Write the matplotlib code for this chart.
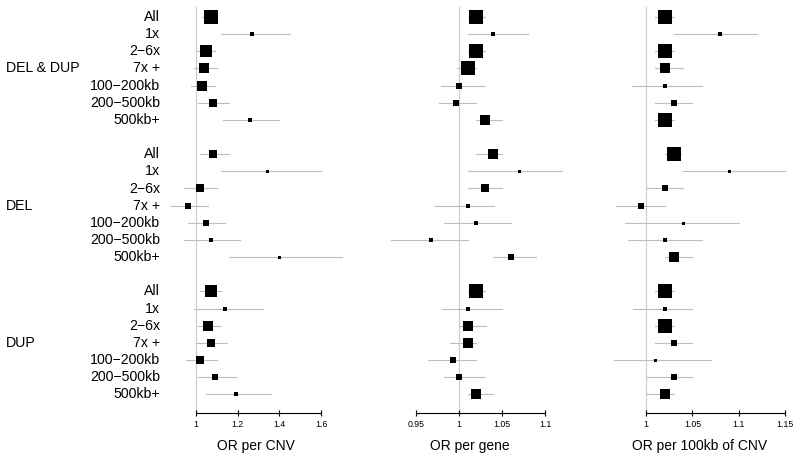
import matplotlib.pyplot as plt
from matplotlib.transforms import blended_transform_factory

plt.rcParams['font.family'] = ['Liberation Sans', 'DejaVu Sans']

groups = ['DEL & DUP', 'DEL', 'DUP']
subsets = ['All', '1x', '2−6x', '7x +', '100−200kb', '200−500kb', '500kb+']

# OR per CNV
cnv_or = [1.07, 1.27, 1.05, 1.04, 1.03, 1.08, 1.26,
          1.08, 1.34, 1.02, 0.96, 1.05, 1.07, 1.40,
          1.07, 1.14, 1.06, 1.07, 1.02, 1.09, 1.19]
cnv_lo = [1.03, 1.12, 1.00, 0.99, 0.975, 1.01, 1.13,
          1.02, 1.12, 0.944, 0.88, 0.96, 0.94, 1.16,
          1.02, 0.99, 1.01, 1.00, 0.95, 1.01, 1.05]
cnv_hi = [1.10, 1.45, 1.09, 1.10, 1.09, 1.16, 1.40,
          1.16, 1.60, 1.10, 1.06, 1.14, 1.21, 1.70,
          1.12, 1.32, 1.12, 1.15, 1.10, 1.19, 1.36]

# OR per gene
gene_or = [1.02, 1.04, 1.02, 1.01, 1.00, 0.997, 1.03,
           1.04, 1.07, 1.03, 1.01, 1.02, 0.967, 1.06,
           1.02, 1.01, 1.01, 1.01, 0.993, 1.00, 1.02]
gene_lo = [1.01, 1.01, 1.01, 0.998, 0.979, 0.977, 1.02,
           1.02, 1.01, 1.01, 0.972, 0.983, 0.921, 1.04,
           1.01, 0.98, 1.00, 0.989, 0.964, 0.982, 1.01]
gene_hi = [1.03, 1.08, 1.03, 1.02, 1.03, 1.02, 1.05,
           1.05, 1.12, 1.05, 1.041, 1.061, 1.01, 1.09,
           1.03, 1.05, 1.031, 1.02, 1.02, 1.03, 1.04]

# OR per 100kb of CNV
kb_or = [1.02, 1.08, 1.02, 1.02, 1.02, 1.03, 1.02,
         1.03, 1.09, 1.02, 0.995, 1.04, 1.02, 1.03,
         1.02, 1.02, 1.02, 1.03, 1.01, 1.03, 1.02]
kb_lo = [1.01, 1.03, 1.01, 1.01, 0.985, 1.01, 1.01,
         1.02, 1.04, 1.00, 0.968, 0.977, 0.981, 1.02,
         1.01, 0.986, 1.01, 1.01, 0.965, 1.00, 1.00]
kb_hi = [1.03, 1.12, 1.03, 1.04, 1.06, 1.05, 1.03,
         1.038, 1.15, 1.04, 1.02, 1.10, 1.06, 1.05,
         1.03, 1.05, 1.03, 1.05, 1.07, 1.05, 1.03]

W, H = 800, 461
fig = plt.figure(figsize=(W / 100, H / 100), dpi=100)

# row positions: 7 rows per group, one blank row between groups
rows = []
for g in range(len(groups)):
    for s in range(len(subsets)):
        rows.append(g * (len(subsets) + 1) + s)

# (est, lo, hi, ticks, label, px of x=1, px per unit, xlim, box const, label centre px)
panels = [
    (cnv_or, cnv_lo, cnv_hi, [1, 1.2, 1.4, 1.6], 'OR per CNV', 196, 208.3, (0.83, 1.75), 1.15, 256),
    (gene_or, gene_lo, gene_hi, [0.95, 1, 1.05, 1.1], 'OR per gene', 459, 860, (0.91, 1.13), 0.30, 470),
    (kb_or, kb_lo, kb_hi, [1, 1.05, 1.1, 1.15], 'OR per 100kb of CNV', 646, 927, (0.955, 1.16), 0.28, 700),
]

axis_px = 413
row0_px, row_step = 17, 17.15

axes = []
for est, lo, hi, ticks, label, x1px, ppu, xlim, boxc, lab_px in panels:
    left = x1px + (xlim[0] - 1) * ppu
    width = (xlim[1] - xlim[0]) * ppu
    ax = fig.add_axes([left / W, (H - axis_px) / H, width / W, axis_px / H])
    ax.set_xlim(*xlim)
    ax.set_ylim((axis_px - row0_px) / row_step, -row0_px / row_step)
    ax.axvline(1, ymax=1 - 7 / axis_px, color='#cfcfcf', lw=0.9, zorder=1)
    for y, e, l, h in zip(rows, est, lo, hi):
        ax.plot([l, h], [y, y], color='#bdbdbd', lw=0.8, zorder=2, clip_on=False)
        side = min(14, max(3, boxc / (h - l)))
        ax.plot([e], [y], marker='s', color='black', markersize=side * 0.72,
                markeredgewidth=0, zorder=3, clip_on=False)
    for sp in ['left', 'right', 'top']:
        ax.spines[sp].set_visible(False)
    ax.spines['bottom'].set_bounds(ticks[0], ticks[-1])
    ax.spines['bottom'].set_linewidth(0.8)
    ax.set_yticks([])
    ax.set_xticks(ticks)
    ax.set_xticklabels([f'{t:g}' for t in ticks], fontsize=6.3)
    ax.tick_params(axis='x', direction='inout', length=4, width=0.8, pad=3)
    ax.patch.set_visible(False)
    fig.text(lab_px / W, 1 - 446 / H, label, ha='center', va='center', fontsize=10)
    axes.append(ax)

tr = blended_transform_factory(fig.transFigure, axes[0].transData)
for i, y in enumerate(rows):
    fig.text(160 / W, y, subsets[i % len(subsets)], transform=tr,
             ha='right', va='center', fontsize=10.2)
for g, name in enumerate(groups):
    fig.text(6 / W, g * (len(subsets) + 1) + 3, name, transform=tr,
             ha='left', va='center', fontsize=10.2)

fig.savefig('out.png', dpi=100)
